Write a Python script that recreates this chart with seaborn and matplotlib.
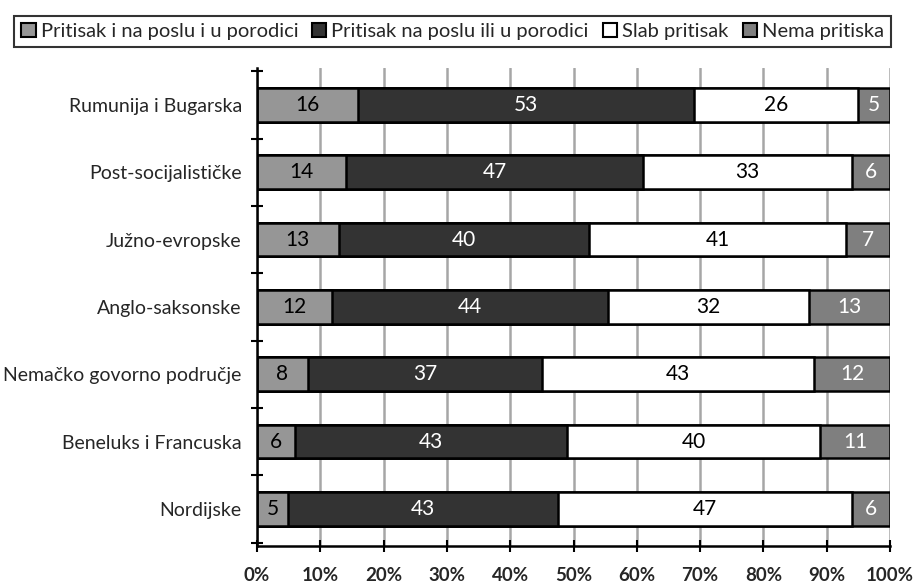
import numpy as np
import pandas as pd
import matplotlib
matplotlib.use('Agg')
import matplotlib.pyplot as plt
from matplotlib.patches import Patch
import seaborn as sns

regions = ['Rumunija i Bugarska', 'Post-socijalističke', 'Južno-evropske',
           'Anglo-saksonske', 'Nemačko govorno područje',
           'Beneluks i Francuska', 'Nordijske']
series = ['Pritisak i na poslu i u porodici', 'Pritisak na poslu ili u porodici',
          'Slab pritisak', 'Nema pritiska']
both = [16, 14, 13, 12, 8, 6, 5]
one = [53, 47, 40, 44, 37, 43, 43]
weak = [26, 33, 41, 32, 43, 40, 47]
none = [5, 6, 7, 13, 12, 11, 6]

colors = ['#969696', '#333333', '#FFFFFF', '#7F7F7F']
text_colors = ['black', 'white', 'black', 'white']

sns.set_theme(style='white')
plt.rcParams['font.family'] = ['Lato', 'DejaVu Sans']

df = pd.DataFrame({'region': regions, series[0]: both, series[1]: one,
                   series[2]: weak, series[3]: none})
vals = df[series].to_numpy(dtype=float)
pct = vals / vals.sum(axis=1, keepdims=True) * 100
cum = np.cumsum(pct, axis=1)
for i, s in enumerate(series):
    df['cum_' + s] = cum[:, i]

fig = plt.figure(figsize=(9.17, 5.84), dpi=100)
ax = fig.add_axes([0.2803, 0.0651, 0.6903, 0.8185])

# draw cumulative bars from the widest down so each segment shows
for i in reversed(range(len(series))):
    sns.barplot(data=df, x='cum_' + series[i], y='region', order=regions,
                color=colors[i], saturation=1, width=0.5,
                edgecolor='black', linewidth=1.8, ax=ax)

for r in range(len(regions)):
    start = 0
    for i in range(len(series)):
        mid = start + pct[r, i] / 2
        ax.text(mid, r, str(int(vals[r, i])), ha='center', va='center',
                color=text_colors[i], fontsize=15)
        start += pct[r, i]

ax.set_xlim(0, 100)
ax.set_ylim(6.55, -0.55)
ax.set_xticks(np.arange(0, 101, 10))
ax.set_xticklabels([f'{v}%' for v in range(0, 101, 10)], fontweight='bold', fontsize=13.5)
ax.set_yticks(np.arange(-0.5, 7, 1), minor=True)
ax.tick_params(axis='y', which='major', length=0, pad=11, labelsize=14)
ax.tick_params(axis='y', which='minor', direction='inout', length=8, width=1.5, color='black', left=True)
ax.tick_params(axis='x', which='major', direction='inout', length=8, width=1.5, color='black', pad=11, bottom=True)
ax.set_xlabel('')
ax.set_ylabel('')
ax.set_axisbelow(True)
ax.xaxis.grid(True, color='#A6A6A6', linewidth=1.8)
ax.yaxis.grid(False)
for side in ['top', 'right']:
    ax.spines[side].set_visible(False)
for side in ['left', 'bottom']:
    ax.spines[side].set_color('black')
    ax.spines[side].set_linewidth(1.8)

handles = [Patch(facecolor=c, edgecolor='black', linewidth=1.5) for c in colors]
leg = fig.legend(handles, series, loc='upper center', bbox_to_anchor=(0.4935, 0.99),
                 ncol=4, fontsize=14.5, frameon=True, fancybox=False,
                 handlelength=0.7, handleheight=0.7, handletextpad=0.25,
                 columnspacing=0.7, borderpad=0.35)
leg.get_frame().set_edgecolor('black')
leg.get_frame().set_linewidth(1.5)

fig.savefig('out.png', dpi=100)
